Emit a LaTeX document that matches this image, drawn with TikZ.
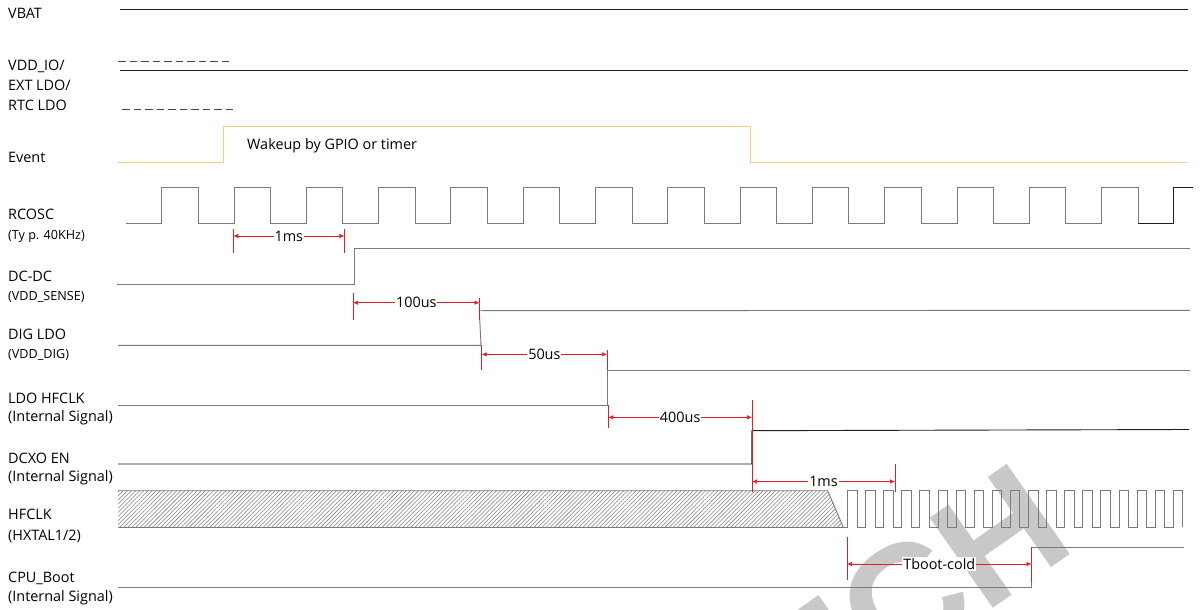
\documentclass[tikz,border=0pt]{standalone}
\usepackage{fontspec}
\setmainfont{Open Sans}
\newfontfamily\wmfont{Liberation Sans}
\usetikzlibrary{arrows.meta,patterns.meta}
\definecolor{dimred}{RGB}{232,28,36}
\definecolor{evtcol}{RGB}{246,206,128}
\definecolor{wmgray}{RGB}{200,200,200}
\begin{document}
\begin{tikzpicture}[x=1pt,y=-1pt,
  lbl/.style={anchor=base west, inner sep=0pt, font=\fontsize{14.4}{16}\selectfont, text=black},
  sublbl/.style={lbl, font=\fontsize{12.6}{14}\selectfont},
  wave/.style={draw=black!52, line width=0.9pt},
  rail/.style={draw=black!88, line width=0.9pt},
  dashrail/.style={draw=black!72, line width=1.1pt, dash pattern=on 7.5pt off 4pt},
  evt/.style={draw=evtcol, line width=1pt},
  dimtick/.style={draw=dimred, line width=0.7pt},
  dimline/.style={draw=dimred, line width=0.7pt, {Latex[length=5pt,width=4.5pt]}-{Latex[length=5pt,width=4.5pt]}},
  dimlbl/.style={fill=white, inner sep=1pt, font=\fontsize{14.4}{16}\selectfont, text=black},
  hatch/.style={pattern={Lines[angle=45,distance=2.9pt,line width=0.55pt]}, pattern color=black!50}
]
\useasboundingbox (0,0) rectangle (1203,610);
\fill[white] (0,0) rectangle (1203,610);
\begin{scope}
\clip (0,0) rectangle (1203,610);
\node[rotate=35, anchor=base west, inner sep=0pt, text=wmgray, font=\wmfont\bfseries\fontsize{160}{160}\selectfont] (wm) at (802,742) {ECH};
\end{scope}

% labels
\node[lbl] (lvbat) at (8,18.9) {VBAT};
\node[lbl] (lvdd1) at (8,70.9) {VDD\_IO/};
\node[lbl] (lvdd2) at (8,90.9) {EXT LDO/};
\node[lbl] (lvdd3) at (8,110.9) {RTC LDO};
\node[lbl] (levt) at (8,162.6) {Event};
\node[lbl] (lrc) at (8,219.8) {RCOSC};
\node[sublbl] (lrc2) at (8,239.7) {(Ty p. 40KHz)};
\node[lbl] (ldc) at (8,281.1) {DC-DC};
\node[sublbl] (ldc2) at (8,300.7) {(VDD\_SENSE)};
\node[lbl] (ldig) at (8,339.1) {DIG LDO};
\node[sublbl] (ldig2) at (8,358.7) {(VDD\_DIG)};
\node[lbl] (lldo) at (8,403.1) {LDO HFCLK};
\node[lbl] (lldo2) at (8,421.7) {(Internal Signal)};
\node[lbl] (ldcxo) at (8,463.1) {DCXO EN};
\node[lbl] (ldcxo2) at (8,481.7) {(Internal Signal)};
\node[lbl] (lhf) at (8,519.8) {HFCLK};
\node[lbl] (lhf2) at (8,540.2) {(HXTAL1/2)};
\node[lbl] (lcpu) at (8,582.1) {CPU\_Boot};
\node[lbl] (lcpu2) at (8,601.7) {(Internal Signal)};
\node[lbl] (lwake) at (247,149) {Wakeup by GPIO or timer};

% rails
\draw[rail] (120,9.3) -- (1188,9.3);
\draw[rail] (120,70) -- (1188,70);
\draw[dashrail] (118,61.7) -- (230,61.7);
\draw[dashrail] (122,109.3) -- (234,109.3);

% event
\draw[evt] (118,162.7) -- (223.7,162.7) -- (223.7,126.5) -- (750,126.5) -- (750,162.7) -- (1187,162.7);

% RCOSC
\draw[wave] (126,223.3) foreach \k in {0,...,13} { -- ({161.7+72.3*\k},223.3) -- ({161.7+72.3*\k},187.5) -- ({198.2+72.3*\k},187.5) -- ({198.2+72.3*\k},223.3) } -- (1173.9,223.3);
\draw[rail] (1138.1,223.3) -- (1173.9,223.3) -- (1173.9,187.5) -- (1193.3,187.5);

% DC-DC, DIG LDO, LDO HFCLK
\draw[wave] (117,284.3) -- (354,284.3) -- (354,248.3) -- (1190,248.3);
\draw[wave] (118,345.3) -- (481,345.3) -- (479.3,310.7) -- (1190,310.3);
\draw[wave] (118,405.7) -- (607.7,405.7) -- (607.7,370) -- (1190,370);

% DCXO EN
\draw[rail] (118,464) -- (751.7,464) -- (751.7,430.7) -- (1189,429.5);

% HFCLK
\fill[hatch] (118,490.7) -- (827.7,490.7) -- (843.3,527.3) -- (118,527.3) -- cycle;
\draw[wave] (118,490.7) -- (827.7,490.7) -- (843.3,527.3);
\draw[wave] (118,527.3) -- (843.3,527.3) foreach \k in {0,...,17} { -- ({847.5+18.1*\k},527.3) -- ({847.5+18.1*\k},490.7) -- ({857+18.1*\k},490.7) -- ({857+18.1*\k},527.3) } -- (1173.3,527.3) -- (1173.3,490.7) -- (1182.8,490.7) -- (1182.8,527.3);

% CPU_Boot
\draw[wave] (118,587.7) -- (1031.7,587.7) -- (1031.7,547.3) -- (1184,547.3);

% dimension ticks
\draw[dimtick] (233.3,229) -- (233.3,253);
\draw[dimtick] (344.3,229) -- (344.3,253);
\draw[dimtick] (353,293) -- (353,320);
\draw[dimtick] (479.5,298) -- (479.5,320);
\draw[dimtick] (481.7,345) -- (481.7,370);
\draw[dimtick] (607,350) -- (607,370);
\draw[dimtick] (608.3,405) -- (608.3,428);
\draw[dimtick] (752,400) -- (752,492);
\draw[dimtick] (895,464) -- (895,492);
\draw[dimtick] (847,536.7) -- (847,580);
\draw[dimtick] (1031.7,546.7) -- (1031.7,581.7);

% dimension arrows
\coordinate (d1a) at (233.3,236);   \coordinate (d1b) at (344.3,236);
\coordinate (d2a) at (353,302.7);   \coordinate (d2b) at (479.5,302.7);
\coordinate (d3a) at (481.7,354.3); \coordinate (d3b) at (607,354.3);
\coordinate (d4a) at (608.3,417.3); \coordinate (d4b) at (752,417.3);
\coordinate (d5a) at (752,481.5);   \coordinate (d5b) at (895,481.5);
\coordinate (d6a) at (847,564);     \coordinate (d6b) at (1031.5,564);
\draw[dimline] (d1a) -- node[dimlbl] (t1) {1ms} (d1b);
\draw[dimline] (d2a) -- node[dimlbl] (t2) {100us} (d2b);
\draw[dimline] (d3a) -- node[dimlbl] (t3) {50us} (d3b);
\draw[dimline] (d4a) -- node[dimlbl] (t4) {400us} (d4b);
\draw[dimline] (d5a) -- node[dimlbl] (t5) {1ms} (d5b);
\draw[dimline] (d6a) -- node[dimlbl] (t6) {Tboot-cold} (d6b);
\end{tikzpicture}
\end{document}
